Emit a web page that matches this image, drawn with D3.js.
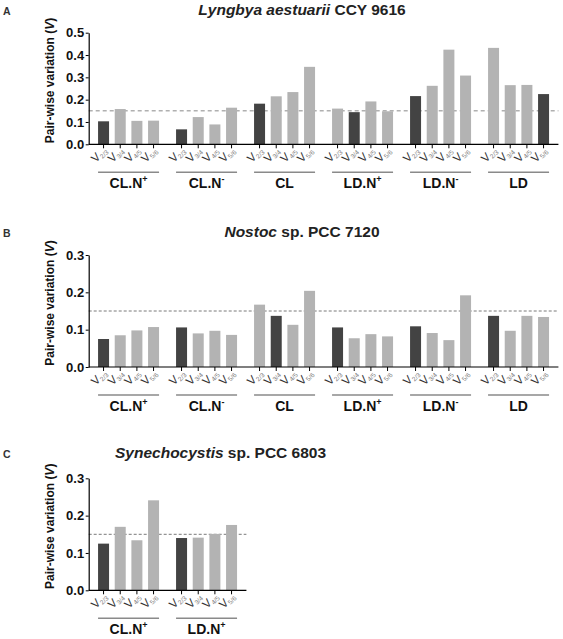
<!DOCTYPE html>
<html><head><meta charset="utf-8">
<script src="https://cdn.jsdelivr.net/npm/d3@7"></script>
<style>
body{margin:0;background:#fff}
text{font-family:"Liberation Sans",Arial,Helvetica,sans-serif}
</style>
</head><body>
<svg id="chart" width="563" height="639"></svg>
<script>
// ---------- data ----------
const pairLabels = ["2/3", "3/4", "4/5", "5/6"];
const groupsAB = ["CL.N+", "CL.N-", "CL", "LD.N+", "LD.N-", "LD"];
const groupsC = ["CL.N+", "LD.N+"];

const lyngbyaValues = [
  [0.103, 0.158, 0.105, 0.106],
  [0.067, 0.122, 0.089, 0.164],
  [0.182, 0.215, 0.234, 0.347],
  [0.160, 0.144, 0.192, 0.148],
  [0.216, 0.262, 0.424, 0.308],
  [0.432, 0.265, 0.266, 0.225]
];
const lyngbyaDark = [0, 0, 0, 1, 0, 3];

const nostocValues = [
  [0.075, 0.085, 0.098, 0.107],
  [0.106, 0.090, 0.097, 0.086],
  [0.167, 0.137, 0.113, 0.204],
  [0.106, 0.077, 0.088, 0.082],
  [0.109, 0.091, 0.072, 0.192],
  [0.137, 0.097, 0.137, 0.134]
];
const nostocDark = [0, 0, 1, 0, 0, 0];

const synechoValues = [
  [0.125, 0.170, 0.134, 0.241],
  [0.140, 0.141, 0.151, 0.175]
];
const synechoDark = [0, 0];

const yTicksA = [0, 0.1, 0.2, 0.3, 0.4, 0.5];
const yTicksBC = [0, 0.1, 0.2, 0.3];
const threshold = 0.15;

// ---------- layout ----------
const svg = d3.select("#chart");
const DARK = "#434343", LIGHT = "#b3b3b3";
const X0 = 88.7, STEP = 78, PIN = 0.218, POUT = 0.12;

const panels = [
  {letter: "A", italic: "Lyngbya aestuarii", rest: " CCY 9616", titleX: 302, titleAnchor: "middle",
   titleY: 14.5, top: 32.7, base: 144.3, yMax: 0.5, yTicks: yTicksA,
   groups: groupsAB, values: lyngbyaValues, dark: lyngbyaDark, dashColor: "#b0b0b0", dashW: 1.5, dash: "4,3"},
  {letter: "B", italic: "Nostoc", rest: " sp. PCC 7120", titleX: 302, titleAnchor: "middle",
   titleY: 236.5, top: 255, base: 367, yMax: 0.3, yTicks: yTicksBC,
   groups: groupsAB, values: nostocValues, dark: nostocDark, dashColor: "#7a7a7a", dashW: 1, dash: "3,2"},
  {letter: "C", italic: "Synechocystis", rest: " sp. PCC 6803", titleX: 115, titleAnchor: "start",
   titleY: 458, top: 478.3, base: 590.3, yMax: 0.3, yTicks: yTicksBC,
   groups: groupsC, values: synechoValues, dark: synechoDark, dashColor: "#7a7a7a", dashW: 1, dash: "3,2"}
];

panels.forEach(p => {
  const g = svg.append("g");
  const n = p.groups.length;
  const x1 = X0 + STEP * (n - PIN + 2 * POUT);
  const gx = d3.scaleBand().domain(p.groups).range([X0, x1]).paddingInner(PIN).paddingOuter(POUT);
  const px = d3.scaleBand().domain(pairLabels).range([0, gx.bandwidth()]).paddingInner(0.34).paddingOuter(0);
  const y = d3.scaleLinear().domain([0, p.yMax]).range([p.base, p.top]);

  // panel letter
  g.append("text").attr("x", 3).attr("y", p.titleY).attr("font-size", 10.5).attr("font-weight", "bold")
    .attr("fill", "#333").text(p.letter);

  // title
  const t = g.append("text").attr("x", p.titleX).attr("y", p.titleY).attr("text-anchor", p.titleAnchor)
    .attr("font-size", 15.5).attr("font-weight", "bold").attr("fill", "#222");
  t.append("tspan").attr("font-style", "italic").text(p.italic);
  t.append("tspan").text(p.rest);

  // y title
  g.append("text")
    .attr("transform", `translate(54,${(p.top + p.base) / 2 - 8}) rotate(-90)`)
    .attr("text-anchor", "middle").attr("font-size", 12).attr("font-weight", "bold").attr("fill", "#111")
    .call(s => {
      s.append("tspan").text("Pair-wise variation (");
      s.append("tspan").attr("font-style", "italic").text("V");
      s.append("tspan").text(")");
    });

  // threshold line
  g.append("line").attr("x1", X0).attr("x2", x1).attr("y1", y(threshold)).attr("y2", y(threshold))
    .attr("stroke", p.dashColor).attr("stroke-width", p.dashW).attr("stroke-dasharray", p.dash);

  // bars
  p.groups.forEach((grp, gi) => {
    const gg = g.append("g").attr("transform", `translate(${gx(grp)},0)`);
    gg.selectAll("rect").data(p.values[gi]).join("rect")
      .attr("x", (d, i) => px(pairLabels[i]))
      .attr("width", px.bandwidth())
      .attr("y", d => y(d))
      .attr("height", d => y(0) - y(d))
      .attr("fill", (d, i) => i === p.dark[gi] ? DARK : LIGHT);

    // x ticks and labels
    pairLabels.forEach(pl => {
      const cx = px(pl) + px.bandwidth() / 2;
      gg.append("line").attr("x1", cx).attr("x2", cx).attr("y1", p.base).attr("y2", p.base + 4)
        .attr("stroke", "#000").attr("stroke-width", 1);
      const tl = gg.append("text")
        .attr("transform", `translate(${cx + 4},${p.base + 7}) rotate(-45)`)
        .attr("text-anchor", "end").attr("fill", "#333");
      tl.append("tspan").attr("font-size", 11.5).text("V");
      tl.append("tspan").attr("font-size", 6.5).attr("dy", 2).attr("fill", "#777").text(pl);
    });

    // underline
    g.append("line").attr("x1", gx(grp)).attr("x2", gx(grp) + gx.bandwidth())
      .attr("y1", p.base + 28).attr("y2", p.base + 28)
      .attr("stroke", "#8a8a8a").attr("stroke-width", 1.6);

    // group label
    const m = grp.match(/^(.*?)([+-]?)$/);
    const lab = g.append("text").attr("x", gx(grp) + gx.bandwidth() / 2).attr("y", p.base + 44)
      .attr("text-anchor", "middle").attr("font-size", 14).attr("font-weight", "bold").attr("fill", "#111");
    lab.append("tspan").text(m[1]);
    if (m[2]) lab.append("tspan").attr("font-size", 9).attr("dy", -6).text(m[2]);
  });

  // x axis line
  g.append("line").attr("x1", X0).attr("x2", x1).attr("y1", p.base).attr("y2", p.base)
    .attr("stroke", "#000").attr("stroke-width", 1.2);

  // y axis
  const ya = g.append("g").attr("transform", `translate(${X0},0)`)
    .call(d3.axisLeft(y).tickValues(p.yTicks).tickFormat(d3.format(".1f")).tickSize(3).tickSizeOuter(0).tickPadding(1.5));
  ya.select(".domain").attr("stroke-width", 1.2);
  ya.selectAll("text").attr("font-size", 13).attr("font-weight", "bold").attr("fill", "#111")
    .attr("font-family", "'Liberation Sans',Arial,sans-serif");
});
</script>
</body></html>
